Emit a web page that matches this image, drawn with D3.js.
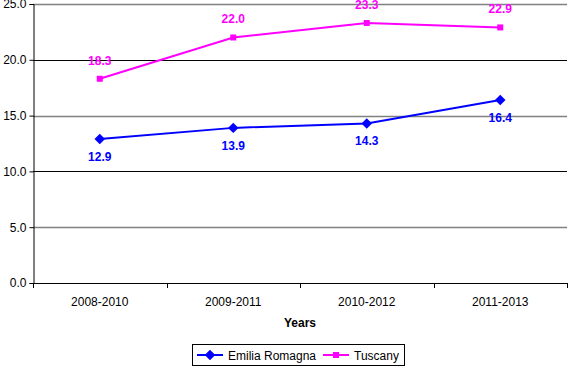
<!DOCTYPE html>
<html>
<head>
<meta charset="utf-8">
<script src="https://cdn.jsdelivr.net/npm/d3@7"></script>
<style>
  body { margin: 0; background: #fff; }
  svg { display: block; font-family: "Liberation Sans", Arial, sans-serif; }
</style>
</head>
<body>
<svg id="chart"></svg>
<script>
var width = 568,
    height = 367;

// Chart data
var periods = ['2008-2010', '2009-2011', '2010-2012', '2011-2013'];
var emilia = [12.9, 13.9, 14.3, 16.4];
var tuscany = [18.3, 22.0, 23.3, 22.9];
var yTicks = [0, 5, 10, 15, 20, 25];

var margin = { left: 33, right: 1, top: 4, bottom: 84 };

var svg = d3.select('#chart')
    .attr('width', width)
    .attr('height', height);

var x = d3.scaleBand()
    .domain(periods)
    .range([margin.left, width - margin.right]);

var y = d3.scaleLinear()
    .domain([0, 25])
    .range([height - margin.bottom, margin.top]);

// Gridlines (alternating gray / black like the original)
svg.append('g')
    .selectAll('line')
    .data(yTicks.filter(function (d) { return d > 0; }))
    .enter().append('line')
    .attr('x1', margin.left)
    .attr('x2', width - margin.right)
    .attr('y1', function (d) { return Math.round(y(d)) + 0.5; })
    .attr('y2', function (d) { return Math.round(y(d)) + 0.5; })
    .attr('stroke', function (d) { return d % 10 === 0 ? '#000' : '#808080'; })
    .attr('stroke-width', function (d) { return d % 10 === 0 ? 1 : 1.6; });

// Y axis
var yAxis = svg.append('g')
    .attr('transform', 'translate(' + (margin.left + 0.5) + ',0)')
    .call(d3.axisLeft(y).tickValues(yTicks).tickFormat(d3.format('.1f')).tickSize(4).tickPadding(3));
yAxis.selectAll('text').attr('font-size', 12).attr('fill', '#000').attr('font-family', 'Liberation Sans, Arial, sans-serif');

// X axis
var xAxis = svg.append('g')
    .attr('transform', 'translate(0,' + (Math.round(y(0)) + 0.5) + ')')
    .call(d3.axisBottom(x).tickSize(0).tickPadding(14));
xAxis.select('.domain').remove();
xAxis.append('line')
    .attr('x1', margin.left)
    .attr('x2', width - margin.right)
    .attr('stroke', '#000');
xAxis.selectAll('text').attr('font-size', 12).attr('fill', '#000').attr('font-family', 'Liberation Sans, Arial, sans-serif');
yAxis.selectAll('.domain').attr('stroke', '#000');

// Category boundary ticks
svg.append('g')
    .selectAll('line')
    .data(periods.concat(['end']))
    .enter().append('line')
    .attr('x1', function (d, i) { return Math.round(margin.left + i * x.bandwidth()) + 0.5; })
    .attr('x2', function (d, i) { return Math.round(margin.left + i * x.bandwidth()) + 0.5; })
    .attr('y1', Math.round(y(0)))
    .attr('y2', Math.round(y(0)) + 5)
    .attr('stroke', '#000');

// X axis title
svg.append('text')
    .attr('x', 300)
    .attr('y', 327)
    .attr('text-anchor', 'middle')
    .attr('font-size', 12)
    .attr('font-weight', 'bold')
    .text('Years');

var line = d3.line()
    .x(function (d, i) { return x(periods[i]) + x.bandwidth() / 2; })
    .y(function (d) { return y(d); });

var diamond = d3.symbol().type(d3.symbolDiamond2).size(70);
var square = d3.symbol().type(d3.symbolSquare).size(36);

function drawSeries(values, color, symbol, labelOffset) {
    var g = svg.append('g');
    g.append('path')
        .datum(values)
        .attr('d', line)
        .attr('fill', 'none')
        .attr('stroke', color)
        .attr('stroke-width', 2);
    g.selectAll('path.mark')
        .data(values)
        .enter().append('path')
        .attr('class', 'mark')
        .attr('d', symbol)
        .attr('fill', color)
        .attr('transform', function (d, i) {
            return 'translate(' + (x(periods[i]) + x.bandwidth() / 2) + ',' + y(d) + ')';
        });
    g.selectAll('text')
        .data(values)
        .enter().append('text')
        .attr('x', function (d, i) { return x(periods[i]) + x.bandwidth() / 2; })
        .attr('y', function (d) { return y(d) + labelOffset; })
        .attr('text-anchor', 'middle')
        .attr('font-size', 12)
        .attr('font-weight', 'bold')
        .attr('fill', color)
        .text(function (d) { return d.toFixed(1); });
}

drawSeries(emilia, '#0000ff', diamond, 22);
drawSeries(tuscany, '#ff00ff', square, -14);

// Legend
var legend = svg.append('g');
legend.append('rect')
    .attr('x', 192.5)
    .attr('y', 344.5)
    .attr('width', 212)
    .attr('height', 21)
    .attr('fill', '#fff')
    .attr('stroke', '#000');

var legendItems = [
    { name: 'Emilia Romagna', color: '#0000ff', symbol: diamond, x: 197 },
    { name: 'Tuscany', color: '#ff00ff', symbol: square, x: 323 }
];

legendItems.forEach(function (d) {
    legend.append('line')
        .attr('x1', d.x).attr('x2', d.x + 26)
        .attr('y1', 355).attr('y2', 355)
        .attr('stroke', d.color)
        .attr('stroke-width', 2);
    legend.append('path')
        .attr('d', d.symbol)
        .attr('fill', d.color)
        .attr('transform', 'translate(' + (d.x + 13) + ',355)');
    legend.append('text')
        .attr('x', d.x + 31)
        .attr('y', 359.5)
        .attr('font-size', 12)
        .text(d.name);
});
</script>
</body>
</html>
